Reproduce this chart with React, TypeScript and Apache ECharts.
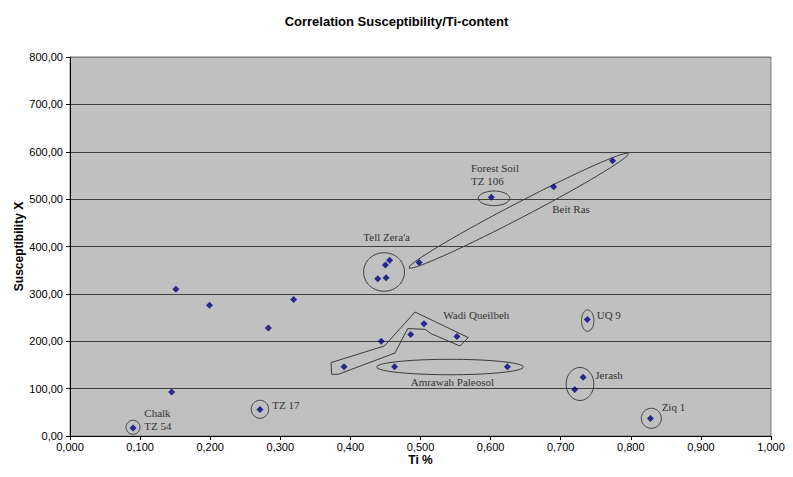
import React, { useEffect, useRef } from "react";
import * as echarts from "echarts";

// Measured points (Ti %, Susceptibility X)
const tiValues = [0.090, 0.145, 0.151, 0.199, 0.283, 0.319, 0.271, 0.391, 0.456, 0.450, 0.439, 0.451, 0.498, 0.444, 0.505, 0.486, 0.552, 0.463, 0.624, 0.601, 0.690, 0.774, 0.738, 0.732, 0.720, 0.828];
const susceptibilityValues = [17, 93, 310, 276, 228, 288, 56, 146, 371, 361, 332, 334, 366, 200, 237, 214, 210, 146, 146, 504, 526, 581, 246, 124, 98, 37];

// Annotation ellipses (data units)
const ellipseNames = ["TZ 54", "TZ 17", "Tell Zera'a", "Forest Soil", "Amrawah Paleosol", "UQ 9", "Jerash", "Ziq 1"];
const ellipseCenterX = [0.0899, 0.271, 0.448, 0.6049, 0.5421, 0.7385, 0.7275, 0.8293];
const ellipseCenterY = [18.4, 56.4, 346.2, 501.7, 145.6, 243.6, 109.8, 37.4];
const ellipseRadiusX = [0.0100, 0.0124, 0.0292, 0.0224, 0.1046, 0.0088, 0.0197, 0.0143];
const ellipseRadiusY = [14.8, 19.0, 40.7, 15.4, 16.3, 22.6, 34.8, 21.1];

// Beit Ras elongated ellipse: tip points (data units)
const beitRasTipX = [0.4836, 0.7964];
const beitRasTipY = [355.0, 596.1];

// Wadi Queilbeh outline (data units)
const wadiX = [0.3723, 0.4484, 0.4922, 0.5682, 0.5563, 0.5150, 0.5064, 0.4817, 0.4636, 0.3827, 0.3733];
const wadiY = [154.9, 190.0, 261.7, 207.7, 190.0, 216.1, 225.2, 226.7, 175.2, 130.2, 130.2];

// Annotation labels (left x, middle y in data units)
const labelTexts = ["Chalk", "TZ 54", "TZ 17", "Tell Zera'a", "Wadi Queilbeh", "Amrawah Paleosol", "Forest Soil", "TZ 106", "Beit Ras", "UQ 9", "Jerash", "Ziq 1"];
const labelX = [0.106, 0.106, 0.2886, 0.4184, 0.5325, 0.486, 0.572, 0.572, 0.688, 0.7514, 0.7494, 0.844];
const labelY = [48.5, 21.1, 66.3, 420.0, 256.3, 114.0, 566.5, 538.3, 479.2, 256.3, 128.8, 61.2];

const OUTLINE = "#3a3a3a";
const LABEL_FONT = '11px "Liberation Serif", "DejaVu Serif", serif';
const BEIT_RAS_HALF_WIDTH_PX = 7.5;
const SANS = '"Liberation Sans", Arial, sans-serif';

function ellipsePoints(cx: number, cy: number, a: number, b: number, ux: number, uy: number) {
  const pts: number[][] = [];
  const nx = -uy, ny = ux;
  const n = 72;
  for (let i = 0; i < n; i++) {
    const t = (i / n) * Math.PI * 2;
    const ca = a * Math.cos(t), sb = b * Math.sin(t);
    pts.push([cx + ca * ux + sb * nx, cy + ca * uy + sb * ny]);
  }
  return pts;
}

export default function App() {
  const ref = useRef<HTMLDivElement>(null);
  useEffect(() => {
    if (!ref.current) return;
    const chart = echarts.init(ref.current, undefined, { renderer: "svg" });
    const points = tiValues.map((x, i) => [x, susceptibilityValues[i]]);

    const renderAnnotations = (params: any, api: any) => {
      const children: any[] = [];
      const lineStyle = { fill: "none", stroke: OUTLINE, lineWidth: 1 };
      ellipseNames.forEach((_, i) => {
        const c = api.coord([ellipseCenterX[i], ellipseCenterY[i]]);
        const s = api.size([ellipseRadiusX[i], ellipseRadiusY[i]]);
        children.push({ type: "polygon", shape: { points: ellipsePoints(c[0], c[1], s[0], s[1], 1, 0) }, style: lineStyle });
      });
      const p1 = api.coord([beitRasTipX[0], beitRasTipY[0]]);
      const p2 = api.coord([beitRasTipX[1], beitRasTipY[1]]);
      const dx = p2[0] - p1[0], dy = p2[1] - p1[1];
      const len = Math.sqrt(dx * dx + dy * dy);
      children.push({
        type: "polygon",
        shape: { points: ellipsePoints((p1[0] + p2[0]) / 2, (p1[1] + p2[1]) / 2, len / 2, BEIT_RAS_HALF_WIDTH_PX, dx / len, dy / len) },
        style: lineStyle,
      });
      children.push({
        type: "polygon",
        shape: { points: wadiX.map((x, i) => api.coord([x, wadiY[i]])) },
        style: lineStyle,
      });
      labelTexts.forEach((t, i) => {
        const p = api.coord([labelX[i], labelY[i]]);
        children.push({
          type: "text",
          x: p[0],
          y: p[1],
          style: { text: t, fill: "#333333", font: LABEL_FONT, align: "left", verticalAlign: "middle", textAlign: "left", textVerticalAlign: "middle" },
        });
      });
      return { type: "group", children };
    };

    chart.setOption({
      animation: false,
      backgroundColor: "#ffffff",
      title: {
        text: "Correlation Susceptibility/Ti-content",
        left: "center",
        top: 10,
        textStyle: { fontFamily: SANS, fontSize: 13, fontWeight: "bold", color: "#000" },
      },
      grid: {
        left: 70,
        right: 22,
        top: 57,
        bottom: 41,
        show: true,
        backgroundColor: "#C0C0C0",
        borderColor: "#808080",
        borderWidth: 1,
      },
      xAxis: {
        type: "value",
        min: 0,
        max: 1,
        interval: 0.1,
        name: "Ti %",
        nameLocation: "middle",
        nameGap: 18,
        nameMoveOverlap: false,
        nameTextStyle: { fontFamily: SANS, fontSize: 12, fontWeight: "bold", color: "#000" },
        axisLine: { show: true, lineStyle: { color: "#000", width: 1 } },
        axisTick: { show: true, inside: false, length: 4, lineStyle: { color: "#000" } },
        axisLabel: {
          fontFamily: SANS,
          fontSize: 11,
          color: "#000",
          margin: 5,
          formatter: (v: number) => v.toFixed(3).replace(".", ","),
        },
        splitLine: { show: false },
      },
      yAxis: {
        type: "value",
        min: 0,
        max: 800,
        interval: 100,
        name: "Susceptibility X",
        nameLocation: "middle",
        nameGap: 45,
        nameMoveOverlap: false,
        nameTextStyle: { fontFamily: SANS, fontSize: 12, fontWeight: "bold", color: "#000" },
        axisLine: { show: true, lineStyle: { color: "#000", width: 1 } },
        axisTick: { show: true, inside: false, length: 4, lineStyle: { color: "#000" } },
        axisLabel: {
          fontFamily: SANS,
          fontSize: 11,
          color: "#000",
          margin: 7,
          formatter: (v: number) => v.toFixed(2).replace(".", ","),
        },
        splitLine: {
          show: true,
          lineStyle: {
            color: ["#404040", "#404040", "#404040", "#404040", "#404040", "#404040", "#404040", "#404040", "#808080"],
            width: 1,
          },
        },
      },
      series: [
        {
          type: "custom",
          coordinateSystem: "cartesian2d",
          silent: true,
          z: 1,
          data: [[0, 0]],
          renderItem: renderAnnotations,
        },
        {
          type: "scatter",
          z: 3,
          symbol: "diamond",
          symbolSize: 7,
          itemStyle: { color: "#000080" },
          data: points,
        },
      ],
    });
    return () => chart.dispose();
  }, []);

  return <div ref={ref} style={{ position: "absolute", left: 0, top: 0, width: 793, height: 477 }} />;
}
